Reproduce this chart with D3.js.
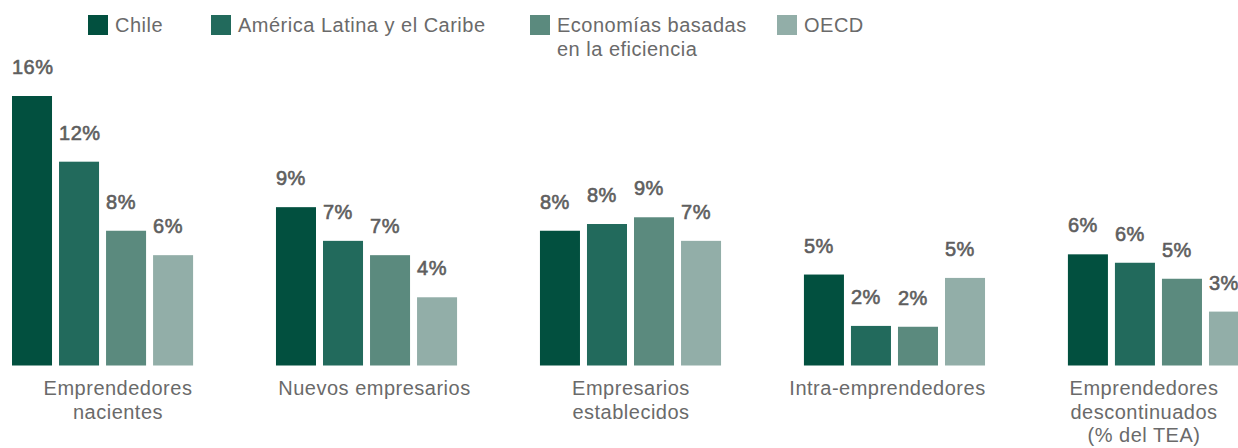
<!DOCTYPE html>
<html>
<head>
<meta charset="utf-8">
<script src="https://cdn.jsdelivr.net/npm/d3@7"></script>
<style>
  body { margin: 0; background: #fff; }
  text { font-family: "Liberation Sans", Arial, Helvetica, sans-serif; letter-spacing: 0.5px; }
</style>
</head>
<body>
<div id="chart_container"></div>
<script>
/// DATA
var categories = [
  ["Emprendedores", "nacientes"],
  ["Nuevos empresarios"],
  ["Empresarios", "establecidos"],
  ["Intra-emprendedores"],
  ["Emprendedores", "descontinuados", "(% del TEA)"]
];
var series = ["Chile", "América Latina y el Caribe", "Economías basadas en la eficiencia", "OECD"];
var legend_lines = [["Chile"], ["América Latina y el Caribe"], ["Economías basadas", "en la eficiencia"], ["OECD"]];

// bar values (%)
var chile  = [16.0, 9.4, 8.0, 5.4, 6.6];
var alc    = [12.1, 7.4, 8.4, 2.35, 6.1];
var efic   = [8.0, 6.55, 8.8, 2.3, 5.15];
var oecd   = [6.55, 4.05, 7.4, 5.2, 3.2];
// printed labels
var chile_lbl = ["16%", "9%", "8%", "5%", "6%"];
var alc_lbl   = ["12%", "7%", "8%", "2%", "6%"];
var efic_lbl  = ["8%", "7%", "9%", "2%", "5%"];
var oecd_lbl  = ["6%", "4%", "7%", "5%", "3%"];

var colors = ["#02503f", "#226a5c", "#5b8a7e", "#92aea8"];

/// PRESENTATION SIZES OF CHART
var width = 1238, height = 448;
var baseline = 365.5;
var legend_x = [88, 211, 530, 777]; // legend items are not evenly spaced in the original

var svg = d3.select("#chart_container").append("svg")
    .attr("width", width)
    .attr("height", height);

// SCALES
var x0 = d3.scaleBand()
    .domain(d3.range(categories.length))
    .range([12, 1249])
    .paddingInner(0.314)
    .paddingOuter(0);

var x1 = d3.scaleBand()
    .domain(d3.range(series.length))
    .range([0, x0.bandwidth()])
    .paddingInner(0.149)
    .paddingOuter(0);

// category labels sit on a slightly tighter spacing than the bar groups
var xLabel = d3.scalePoint()
    .domain(d3.range(categories.length))
    .range([118, 1144]);

var y = d3.scaleLinear()
    .domain([0, 16])
    .range([baseline, 96]);

var values = [chile, alc, efic, oecd];
var labels = [chile_lbl, alc_lbl, efic_lbl, oecd_lbl];

var rows = [];
categories.forEach(function(c, i) {
  series.forEach(function(s, j) {
    rows.push({cat: i, ser: j, value: values[j][i], label: labels[j][i]});
  });
});

// ------------- //
// BARS          //
// ------------- //
var bars = svg.append("g").attr("class", "bars");

bars.selectAll("rect")
    .data(rows)
  .enter().append("rect")
    .attr("x", function(d) { return x0(d.cat) + x1(d.ser); })
    .attr("y", function(d) { return y(d.value); })
    .attr("width", x1.bandwidth())
    .attr("height", function(d) { return baseline - y(d.value); })
    .attr("fill", function(d) { return colors[d.ser]; });

// medium-ish weight: regular face with a thin stroke
bars.selectAll("text")
    .data(rows)
  .enter().append("text")
    .attr("x", function(d) { return x0(d.cat) + x1(d.ser); })
    .attr("y", function(d) { return y(d.value) - 22; })
    .attr("font-size", "20px")
    .attr("fill", "#5e5e5e")
    .attr("stroke", "#5e5e5e")
    .attr("stroke-width", 0.6)
    .text(function(d) { return d.label; });

// ------------- //
// CATEGORY AXIS //
// ------------- //
var cats = svg.append("g").attr("class", "categories");

cats.selectAll("text")
    .data(categories)
  .enter().append("text")
    .attr("x", function(d, i) { return xLabel(i); })
    .attr("y", 395)
    .attr("text-anchor", "middle")
    .attr("font-size", "20px")
    .attr("fill", "#6a6a6a")
    .selectAll("tspan")
    .data(function(d) { return d; })
  .enter().append("tspan")
    .attr("x", function() { return d3.select(this.parentNode).attr("x"); })
    .attr("dy", function(d, k) { return k === 0 ? 0 : 23.5; })
    .text(function(d) { return d; });

// ------------- //
// LEGEND        //
// ------------- //
var legend = svg.append("g").attr("class", "legend")
  .selectAll("g")
    .data(legend_lines)
  .enter().append("g")
    .attr("transform", function(d, i) { return "translate(" + legend_x[i] + ",15)"; });

legend.append("rect")
    .attr("width", 20)
    .attr("height", 20)
    .attr("fill", function(d, i) { return colors[i]; });

legend.append("text")
    .attr("x", 27)
    .attr("y", 17)
    .attr("font-size", "20px")
    .attr("fill", "#6a6a6a")
    .selectAll("tspan")
    .data(function(d) { return d; })
  .enter().append("tspan")
    .attr("x", 27)
    .attr("dy", function(d, k) { return k === 0 ? 0 : 24; })
    .text(function(d) { return d; });
</script>
</body>
</html>
